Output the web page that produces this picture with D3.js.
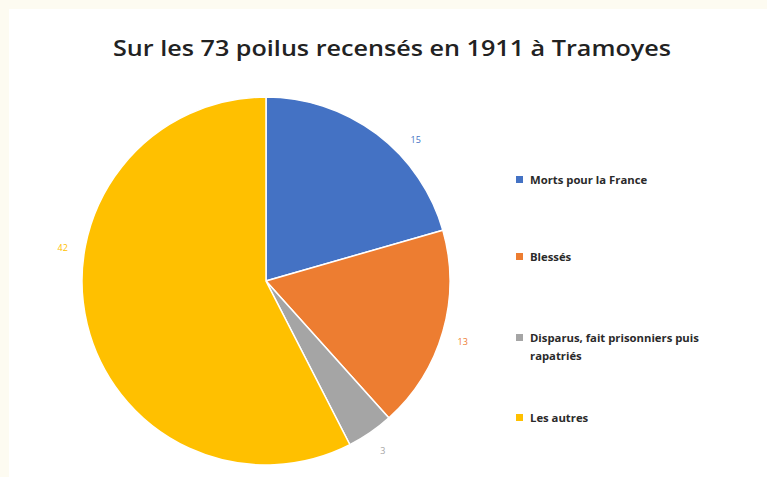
<!DOCTYPE html>
<html>
<head>
<meta charset="utf-8">
<script src="https://cdn.jsdelivr.net/npm/d3@7"></script>
<style>
  body { margin: 0; background: #fdfbf1; }
  svg { display: block; }
</style>
</head>
<body>
<svg></svg>
<script>
var categories = ["Morts pour la France", "Blessés", "Disparus, fait prisonniers puis rapatriés", "Les autres"];
var values = [15, 13, 3, 42];
var colors = ["#4472C4", "#ED7D31", "#A5A5A5", "#FFC000"];
var title = "Sur les 73 poilus recensés en 1911 à Tramoyes";
// where along each slice the data label sits (0 = start, 1 = end)
var labelFrac = [0.63, 0.52, 0.5, 0.61];

var svg_width = 767;
var svg_height = 477;

var svg = d3.select("svg")
  .attr("width", svg_width)
  .attr("height", svg_height);

// white chart area over the cream page
svg.append("rect")
  .attr("x", 9).attr("y", 9)
  .attr("width", svg_width - 9).attr("height", svg_height - 9)
  .attr("fill", "#ffffff");

svg.append("text")
  .attr("x", 392)
  .attr("y", 56)
  .attr("text-anchor", "middle")
  .attr("font-family", "Open Sans, sans-serif")
  .attr("font-weight", 600)
  .attr("font-size", "21.5px")
  .attr("textLength", 558)
  .attr("lengthAdjust", "spacingAndGlyphs")
  .attr("fill", "#222")
  .text(title);

var cx = 266, cy = 281, radius = 184;

var pie = d3.pie().sort(null).value(function(d) { return d; });
var arcs = pie(values);
var arc = d3.arc().innerRadius(0).outerRadius(radius);

var group = svg.append("g")
  .attr("transform", "translate(" + cx + "," + cy + ")");

group.selectAll("path")
  .data(arcs)
  .enter().append("path")
  .attr("d", arc)
  .attr("fill", function(d, i) { return colors[i]; })
  .attr("stroke", "#ffffff")
  .attr("stroke-width", 1.5);

var labelR = radius + 22;
group.selectAll("text.lbl")
  .data(arcs)
  .enter().append("text")
  .attr("class", "lbl")
  .attr("transform", function(d, i) {
    var a = d.startAngle + (d.endAngle - d.startAngle) * labelFrac[i];
    return "translate(" + (labelR * Math.sin(a)) + "," + (-labelR * Math.cos(a)) + ")";
  })
  .attr("text-anchor", "middle")
  .attr("dy", "0.35em")
  .attr("font-family", "Open Sans, sans-serif")
  .attr("font-size", "9px")
  .attr("fill", function(d, i) { return colors[i]; })
  .text(function(d) { return d.value; });

// legend
var legendY = [180, 257, 338, 418];
var legend = svg.append("g");

var items = legend.selectAll("g")
  .data(categories)
  .enter().append("g")
  .attr("transform", function(d, i) { return "translate(516," + legendY[i] + ")"; });

items.append("rect")
  .attr("x", 0).attr("y", -4)
  .attr("width", 7).attr("height", 7)
  .attr("fill", function(d, i) { return colors[i]; });

items.append("text")
  .attr("x", 14)
  .attr("dy", "0.35em")
  .attr("font-family", "Open Sans, sans-serif")
  .attr("font-weight", "bold")
  .attr("font-size", "11.3px")
  .attr("fill", "#2a2a2a")
  .each(function(d) {
    var t = d3.select(this);
    if (d.indexOf("puis") >= 0) {
      t.append("tspan").attr("x", 14).text("Disparus, fait prisonniers puis");
      t.append("tspan").attr("x", 14).attr("dy", "1.6em").text("rapatriés");
    } else {
      t.text(d);
    }
  });
</script>
</body>
</html>
